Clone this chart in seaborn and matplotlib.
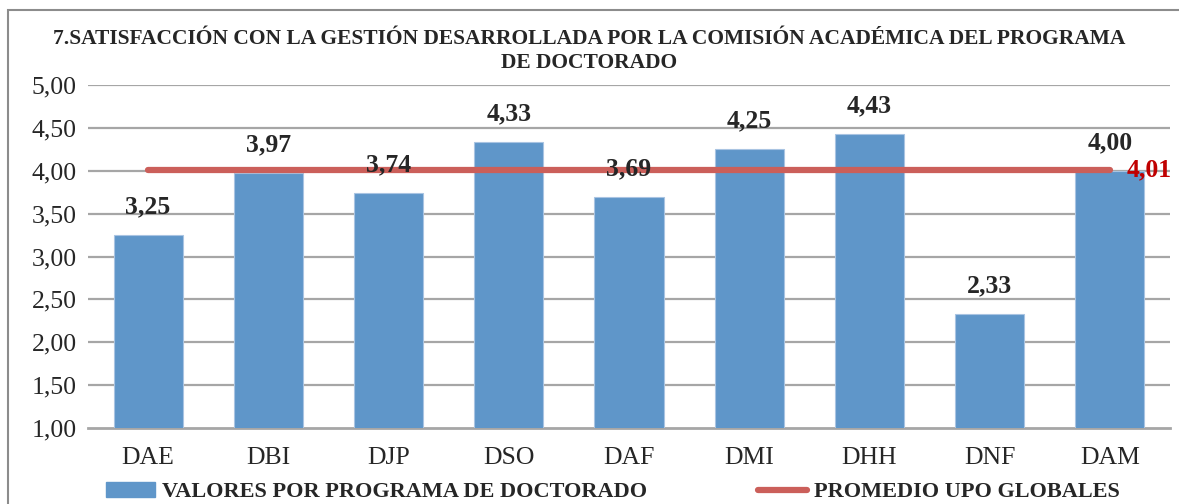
import matplotlib
matplotlib.use("Agg")
import matplotlib.pyplot as plt
import seaborn as sns
import pandas as pd
from matplotlib.patches import Rectangle, Patch
from matplotlib.lines import Line2D

# Chart values
programas = ["DAE", "DBI", "DJP", "DSO", "DAF", "DMI", "DHH", "DNF", "DAM"]
valores = [3.25, 3.97, 3.74, 4.33, 3.69, 4.25, 4.43, 2.33, 4.00]
promedio_upo = [4.01] * len(programas)
y_ticks = [1.0, 1.5, 2.0, 2.5, 3.0, 3.5, 4.0, 4.5, 5.0]

titulo = "7.SATISFACCIÓN CON LA GESTIÓN DESARROLLADA POR LA COMISIÓN ACADÉMICA DEL PROGRAMA\nDE DOCTORADO"
serie_barras = "VALORES POR PROGRAMA DE DOCTORADO"
serie_linea = "PROMEDIO UPO GLOBALES"

bar_color = "#5F96C9"
line_color = "#CB5F5A"
grid_color = "#A6A6A6"


def fmt(v):
    return f"{v:.2f}".replace(".", ",")


def plot_chart():
    sns.set_style("white")
    plt.rcParams["font.family"] = ["Liberation Serif", "DejaVu Serif"]

    df = pd.DataFrame({"programa": programas, "valor": valores})

    fig = plt.figure(figsize=(11.79, 5.04), dpi=100)
    # outer chart border
    fig.patches.append(Rectangle((8 / 1179, -0.1), 1.1, 1.1 - 10 / 504, transform=fig.transFigure,
                                 fill=False, edgecolor="#8C8C8C", linewidth=1.5))

    ax = fig.add_axes([88 / 1179, 1 - 428 / 504, (1170 - 88) / 1179, (428 - 85) / 504])

    sns.barplot(data=df, x="programa", y="valor", color=bar_color, width=0.575,
                edgecolor="#A9C4E2", linewidth=0.8, saturation=1, ax=ax, zorder=3)

    x_pos = list(range(len(programas)))
    ax.plot(x_pos, promedio_upo, color=line_color, linewidth=4.5,
            solid_capstyle="round", zorder=4)

    ax.set_ylim(1, 5)
    ax.set_xlim(-0.5, len(programas) - 0.5)
    ax.set_yticks(y_ticks)
    ax.set_yticklabels([fmt(t) for t in y_ticks], fontsize=18.5)
    ax.tick_params(axis="x", labelsize=18.5, pad=14, length=0)
    ax.tick_params(axis="y", length=0, pad=8)
    ax.set_xlabel("")
    ax.set_ylabel("")
    for t in y_ticks[1:]:
        ax.axhline(t, color=grid_color, linewidth=1.6, zorder=1)
    for side in ["top", "right", "left"]:
        ax.spines[side].set_visible(False)
    ax.spines["bottom"].set_color(grid_color)
    ax.spines["bottom"].set_linewidth(2)

    # value labels
    for i, v in enumerate(valores):
        ax.annotate(fmt(v), (i, v), xytext=(0, 12), textcoords="offset points",
                    ha="center", va="bottom", fontsize=18.5, fontweight="bold", zorder=5)
    ax.annotate(fmt(promedio_upo[-1]), (x_pos[-1], promedio_upo[-1]), xytext=(12, 0),
                textcoords="offset points", ha="left", va="center", fontsize=18.5,
                fontweight="bold", color="#C00000", zorder=5, annotation_clip=False)

    fig.text(0.5, 1 - 51 / 504, titulo, ha="center", va="center", fontsize=15.5,
             fontweight="bold", linespacing=1.3)

    handles = [Patch(facecolor=bar_color, edgecolor=bar_color),
               Line2D([0], [0], color=line_color, linewidth=4.5)]
    fig.legend(handles, [serie_barras, serie_linea], loc="center", ncol=2,
               bbox_to_anchor=(0.52, 1 - 492 / 504), frameon=False,
               prop={"size": 16, "weight": "bold"}, columnspacing=5,
               handlelength=2.2, handletextpad=0.3, borderpad=0.1)

    fig.savefig("out.png", dpi=100)


if __name__ == "__main__":
    plot_chart()
